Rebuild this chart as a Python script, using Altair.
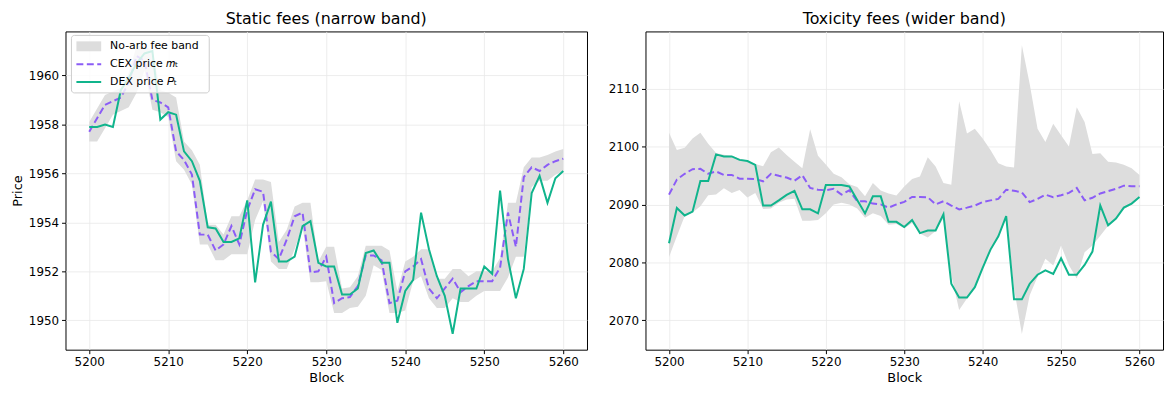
import altair as alt
import pandas as pd

blocks = list(range(5200, 5261))

static_cex = [1957.7, 1958.25, 1958.8, 1958.95, 1959.1, 1959.7, 1960.8, 1960.6, 1959.0, 1958.9,
              1958.7, 1956.9, 1956.55, 1955.95, 1953.5, 1953.5, 1952.85, 1953.1, 1953.85, 1953.1,
              1954.5, 1955.35, 1955.25, 1952.8, 1952.5, 1953.3, 1954.25, 1954.4, 1951.95, 1952.0,
              1952.6, 1950.7, 1950.9, 1950.95, 1951.4, 1952.65, 1952.65, 1952.45, 1950.7, 1950.8,
              1952.0, 1952.2, 1952.5, 1951.3, 1950.9, 1951.3, 1951.7, 1951.15, 1951.4, 1951.6,
              1951.6, 1951.6, 1952.15, 1954.4, 1953.0, 1955.85, 1956.25, 1956.1, 1956.35, 1956.5, 1956.6]
static_dex = [1957.9, 1957.9, 1958.0, 1957.9, 1959.4, 1959.9, 1960.5, 1960.9, 1961.0, 1958.2,
              1958.5, 1958.4, 1956.9, 1956.5, 1955.7, 1953.8, 1953.75, 1953.2, 1953.2, 1953.35,
              1954.9, 1951.55, 1953.9, 1954.85, 1952.4, 1952.4, 1952.6, 1953.85, 1954.05, 1952.35,
              1952.2, 1952.2, 1951.05, 1951.05, 1951.3, 1952.75, 1952.85, 1952.35, 1952.35, 1949.9,
              1951.2, 1951.65, 1954.4, 1952.9, 1951.8, 1951.0, 1949.45, 1951.3, 1951.3, 1951.3,
              1952.2, 1951.9, 1955.3, 1952.5, 1950.9, 1952.1, 1955.2, 1955.9, 1954.8, 1955.8, 1956.1]
static_lo = [1957.3, 1957.3, 1957.85, 1958.4, 1958.55, 1958.7, 1959.3, 1960.2, 1958.6, 1958.5,
             1958.3, 1956.5, 1956.15, 1955.55, 1953.1, 1953.1, 1952.45, 1952.45, 1952.7, 1952.7,
             1952.7, 1954.1, 1954.85, 1952.4, 1952.1, 1952.1, 1952.9, 1953.85, 1951.55, 1951.55,
             1951.6, 1950.3, 1950.3, 1950.5, 1950.55, 1951.0, 1952.25, 1952.05, 1950.3, 1950.3,
             1950.4, 1951.6, 1951.8, 1950.9, 1950.5, 1950.5, 1950.9, 1950.75, 1950.75, 1951.0,
             1951.2, 1951.2, 1951.2, 1951.75, 1952.6, 1952.6, 1955.45, 1955.7, 1955.7, 1955.95, 1956.1]
static_hi = [1958.1, 1958.65, 1959.2, 1959.35, 1959.5, 1960.1, 1961.2, 1961.2, 1961.0, 1959.4,
             1959.3, 1959.1, 1957.3, 1956.95, 1956.35, 1953.9, 1953.9, 1953.5, 1954.25, 1954.25,
             1954.9, 1955.75, 1955.75, 1955.65, 1953.2, 1953.7, 1954.65, 1954.8, 1954.8, 1952.4,
             1953.0, 1953.0, 1951.3, 1951.35, 1951.8, 1953.05, 1953.05, 1953.05, 1952.85, 1951.2,
             1952.4, 1952.6, 1952.9, 1952.9, 1951.7, 1951.7, 1952.1, 1952.1, 1951.8, 1952.0,
             1952.0, 1952.0, 1952.55, 1954.8, 1954.8, 1956.25, 1956.65, 1956.65, 1956.75, 1956.9, 1957.0]

tox_cex = [2091.7, 2094.3, 2095.3, 2096.1, 2096.15, 2095.3, 2095.7, 2095.1, 2095.1, 2094.45,
           2094.45, 2094.4, 2094.0, 2095.3, 2094.95, 2094.65, 2094.1, 2095.05, 2092.85, 2092.55,
           2092.45, 2092.7, 2091.7, 2092.45, 2090.55, 2090.55, 2090.15, 2090.0, 2089.45, 2090.0,
           2090.45, 2091.3, 2091.3, 2091.25, 2090.0, 2090.55, 2089.8, 2089.15, 2089.45, 2089.8,
           2090.4, 2090.7, 2090.95, 2092.55, 2092.35, 2092.1, 2090.4, 2090.95, 2091.7, 2091.25,
           2091.6, 2092.0, 2092.85, 2090.7, 2091.15, 2091.9, 2092.3, 2092.7, 2093.25, 2093.15, 2093.15]
tox_dex = [2083.3, 2089.4, 2088.1, 2088.75, 2094.05, 2094.05, 2098.65, 2098.3, 2098.3, 2097.7,
           2097.5, 2096.85, 2089.8, 2089.8, 2090.7, 2091.65, 2092.35, 2089.15, 2089.15, 2088.45,
           2093.35, 2093.35, 2093.35, 2093.1, 2090.75, 2088.45, 2091.4, 2091.4, 2087.0, 2087.0,
           2086.1, 2087.3, 2085.05, 2085.5, 2085.5, 2088.3, 2076.3, 2073.9, 2073.9, 2075.7,
           2079.05, 2082.2, 2084.5, 2088.0, 2073.6, 2073.6, 2076.3, 2077.85, 2078.6, 2078.0,
           2080.7, 2077.85, 2077.85, 2079.55, 2081.85, 2089.85, 2086.4, 2087.55, 2089.45, 2090.15, 2091.3]
tox_lo = [2080.9, 2084.5, 2088.0, 2088.6, 2089.7, 2091.6, 2091.7, 2092.8, 2092.0, 2092.5,
          2091.2, 2092.0, 2089.2, 2089.3, 2090.3, 2090.85, 2091.0, 2087.2, 2087.2, 2087.3,
          2088.5, 2090.0, 2090.3, 2090.0, 2089.3, 2087.7, 2088.5, 2088.0, 2086.5, 2086.6,
          2085.9, 2086.8, 2085.0, 2084.3, 2085.4, 2087.6, 2077.8, 2071.75, 2073.75, 2076.05,
          2078.9, 2082.0, 2084.3, 2087.7, 2075.5, 2067.6, 2074.3, 2077.5, 2080.6, 2079.45,
          2082.9, 2079.5, 2077.2, 2081.75, 2082.9, 2084.6, 2086.3, 2087.7, 2089.15, 2090.0, 2091.15]
tox_hi = [2102.4, 2099.4, 2099.8, 2101.4, 2102.4, 2100.5, 2098.9, 2098.6, 2098.4, 2097.9,
          2097.6, 2097.0, 2096.6, 2099.0, 2099.85, 2098.55, 2097.4, 2096.25, 2103.0, 2098.4,
          2096.9, 2095.3, 2094.7, 2093.5, 2093.0, 2091.4, 2093.7, 2092.4, 2091.9, 2091.55,
          2093.1, 2094.4, 2094.85, 2098.15, 2096.55, 2093.7, 2093.4, 2107.85, 2102.25, 2103.1,
          2101.4, 2099.4, 2097.1, 2096.55, 2096.4, 2117.5, 2110.8, 2103.1, 2100.8, 2103.95,
          2101.95, 2100.0, 2106.8, 2104.25, 2098.7, 2098.85, 2097.4, 2097.25, 2096.85, 2096.25, 2095.1]

x_ticks = [5200, 5210, 5220, 5230, 5240, 5250, 5260]
static_y_ticks = [1950, 1952, 1954, 1956, 1958, 1960]
tox_y_ticks = [2070, 2080, 2090, 2100, 2110]

legend_labels = ["No-arb fee band", "CEX price 𝑚ₜ", "DEX price 𝑃ₜ"]

GRAY = "#dddddd"
PURPLE = "#8b5cf6"
GREEN = "#10b48c"
FONT = "DejaVu Sans"

W_LEFT, W_RIGHT, H = 526, 522, 321


def panel(cex, dex, lo, hi, title, ydomain, yticks, ytitle, width, with_legend):
    df = pd.DataFrame({"block": blocks, "cex": cex, "dex": dex, "lo": lo, "hi": hi})
    xenc = alt.X("block:Q", scale=alt.Scale(domain=[5197, 5263], nice=False, zero=False),
                 axis=alt.Axis(values=x_ticks, title="Block", format="d"))
    yscale = alt.Scale(domain=ydomain, nice=False, zero=False)
    if ytitle:
        yax = alt.Axis(values=yticks, title=ytitle, format="d", titlePadding=4)
    else:
        yax = alt.Axis(values=yticks, title=None, format="d")
    base = alt.Chart(df)
    band = base.mark_area(color=GRAY, opacity=1).encode(
        x=xenc, y=alt.Y("lo:Q", scale=yscale, axis=yax), y2="hi:Q")
    cexl = base.mark_line(color=PURPLE, strokeWidth=2, strokeDash=[7, 3.5]).encode(
        x=xenc, y=alt.Y("cex:Q", scale=yscale, axis=yax))
    dexl = base.mark_line(color=GREEN, strokeWidth=2).encode(
        x=xenc, y=alt.Y("dex:Q", scale=yscale, axis=yax))
    layers = [band, cexl, dexl]
    if with_legend:
        one = alt.Chart(pd.DataFrame({"k": [0]}))
        box = one.mark_rect(fill="white", fillOpacity=0.8, stroke="#cccccc", strokeWidth=1,
                            cornerRadius=3).encode(
            x=alt.value(6), x2=alt.value(145), y=alt.value(4), y2=alt.value(62))
        sw = one.mark_rect(fill=GRAY).encode(
            x=alt.value(11), x2=alt.value(36), y=alt.value(10), y2=alt.value(20))
        l2 = one.mark_rule(color=PURPLE, strokeWidth=2, strokeDash=[7, 3.5]).encode(
            x=alt.value(11), x2=alt.value(36), y=alt.value(33))
        l3 = one.mark_rule(color=GREEN, strokeWidth=2).encode(
            x=alt.value(11), x2=alt.value(36), y=alt.value(51))
        t1 = one.mark_text(align="left", baseline="middle", font=FONT, fontSize=11,
                           color="black").encode(x=alt.value(45), y=alt.value(15),
                                                 text=alt.value(legend_labels[0]))
        t2 = one.mark_text(align="left", baseline="middle", font=FONT, fontSize=11,
                           color="black").encode(x=alt.value(45), y=alt.value(33),
                                                 text=alt.value(legend_labels[1]))
        t3 = one.mark_text(align="left", baseline="middle", font=FONT, fontSize=11,
                           color="black").encode(x=alt.value(45), y=alt.value(51),
                                                 text=alt.value(legend_labels[2]))
        layers += [box, sw, l2, l3, t1, t2, t3]
    return alt.layer(*layers).properties(
        width=width, height=H,
        title=alt.TitleParams(title, fontSize=16, font=FONT, fontWeight="normal",
                              anchor="middle", offset=5, color="black"))


left = panel(static_cex, static_dex, static_lo, static_hi, "Static fees (narrow band)",
             [1948.8, 1961.8], static_y_ticks, "Price", W_LEFT, True)
right = panel(tox_cex, tox_dex, tox_lo, tox_hi, "Toxicity fees (wider band)",
              [2064.9, 2119.9], tox_y_ticks, "", W_RIGHT, False)

chart = alt.hconcat(left, right, spacing=19).properties(
    padding={"left": 2, "top": 0, "right": 0, "bottom": 0}
).configure_view(
    stroke="black", strokeWidth=1
).configure_axis(
    labelFont=FONT, labelFontSize=12, labelColor="black",
    titleFont=FONT, titleFontSize=13, titleFontWeight="normal", titleColor="black",
    tickColor="black", tickSize=4, domain=False,
    grid=True, gridColor="#e8e8e8", gridWidth=0.8, labelPadding=3, titlePadding=4
).configure_title(font=FONT)

chart.save("out.html", embed_options={"renderer": "svg", "actions": False})
